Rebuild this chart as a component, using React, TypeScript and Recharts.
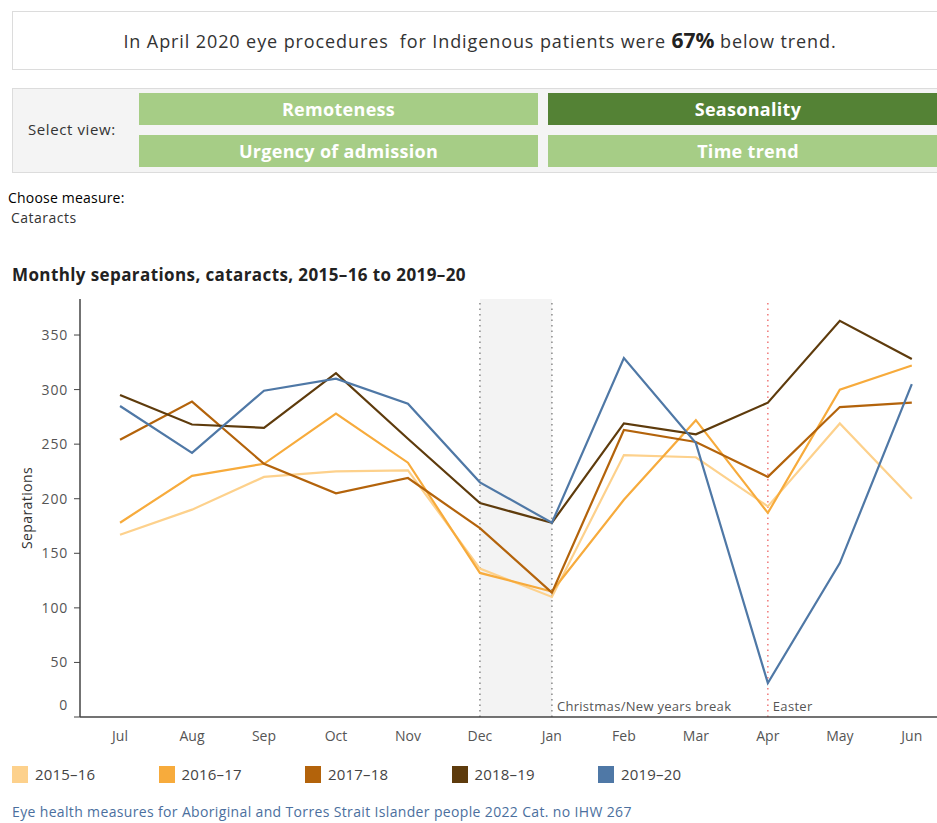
import React from "react";
import {
  LineChart,
  Line,
  XAxis,
  YAxis,
  ReferenceArea,
  ReferenceLine,
} from "recharts";

const months = ["Jul", "Aug", "Sep", "Oct", "Nov", "Dec", "Jan", "Feb", "Mar", "Apr", "May", "Jun"];

const y201516 = [167, 190, 220, 225, 226, 136, 110, 240, 238, 193, 269, 200];
const y201617 = [178, 221, 232, 278, 233, 132, 115, 199, 272, 187, 300, 322];
const y201718 = [254, 289, 232, 205, 219, 173, 114, 263, 252, 220, 284, 288];
const y201819 = [295, 268, 265, 315, 255, 196, 178, 269, 259, 288, 363, 328];
const y201920 = [285, 242, 299, 310, 287, 215, 178, 329, 251, 31, 141, 305];

const yTicks = [0, 50, 100, 150, 200, 250, 300, 350];

const seriesNames = ["2015–16", "2016–17", "2017–18", "2018–19", "2019–20"];
const seriesColors = ["#fdd18c", "#f7ab3c", "#b3630b", "#5e3b0c", "#4f78a6"];
const seriesValues = [y201516, y201617, y201718, y201819, y201920];

const data = months.map((m, i) => {
  const row: Record<string, number | string> = { idx: i, month: m };
  seriesNames.forEach((n, s) => {
    row[n] = seriesValues[s][i];
  });
  return row;
});

const font = "'Open Sans', sans-serif";

const YTick = (props: any) => {
  const { x, y, payload } = props;
  const dy = payload.value === 0 ? -7 : 5;
  return (
    <text
      x={x - 4}
      y={y + dy}
      textAnchor="end"
      fontSize={14}
      letterSpacing={0.8}
      fill="#555"
      fontFamily={font}
    >
      {payload.value}
    </text>
  );
};

const EventLabel = (text: string) => (props: any) => {
  const { viewBox } = props;
  return (
    <text
      x={viewBox.x + 5}
      y={viewBox.y + viewBox.height - 6}
      fontSize={13}
      letterSpacing={0.3}
      fill="#555"
      fontFamily={font}
    >
      {text}
    </text>
  );
};

const Button = ({ left, top, width, label, active }: any) => (
  <div
    style={{
      position: "absolute",
      left,
      top,
      width,
      height: 32,
      background: active ? "#548235" : "#a6cd86",
      color: "#fff",
      fontWeight: 700,
      fontSize: 18,
      letterSpacing: 0.3,
      lineHeight: "32px",
      textAlign: "center",
      fontFamily: font,
    }}
  >
    {label}
  </div>
);

const App = () => {
  return (
    <div
      style={{
        position: "absolute",
        left: 0,
        top: 0,
        width: 937,
        height: 823,
        overflow: "hidden",
        background: "#fff",
        fontFamily: font,
      }}
    >
      <div
        style={{
          position: "absolute",
          left: 12,
          top: 11,
          width: 940,
          height: 57,
          border: "1px solid #dcdcdc",
          textAlign: "center",
          lineHeight: "57px",
          fontSize: 18,
          letterSpacing: 0.9,
          color: "#333",
        }}
      >
        <span style={{ position: "relative", left: -3 }}>
          In April 2020 eye procedures&nbsp; for Indigenous patients were{" "}
          <b style={{ fontSize: 21, color: "#222", letterSpacing: 0 }}>67%</b> below trend.
        </span>
      </div>

      <div
        style={{
          position: "absolute",
          left: 12,
          top: 88,
          width: 940,
          height: 83,
          border: "1px solid #dcdcdc",
          background: "#f4f4f4",
        }}
      />
      <div
        style={{
          position: "absolute",
          left: 28,
          top: 119,
          fontSize: 15,
          letterSpacing: 0.6,
          color: "#333",
        }}
      >
        Select view:
      </div>
      <Button left={139} top={93} width={399} label="Remoteness" />
      <Button left={548} top={93} width={400} label="Seasonality" active />
      <Button left={139} top={135} width={399} label="Urgency of admission" />
      <Button left={548} top={135} width={400} label="Time trend" />

      <div
        style={{
          position: "absolute",
          left: 8,
          top: 188,
          fontSize: 14,
          letterSpacing: 0.2,
          color: "#000",
        }}
      >
        Choose measure:
      </div>
      <div
        style={{
          position: "absolute",
          left: 11,
          top: 208,
          fontSize: 14,
          letterSpacing: 0.5,
          color: "#333",
        }}
      >
        Cataracts
      </div>

      <div
        style={{
          position: "absolute",
          left: 12,
          top: 263,
          fontSize: 17,
          letterSpacing: 0.4,
          fontWeight: 700,
          color: "#222",
        }}
      >
        Monthly separations, cataracts, 2015–16 to 2019–20
      </div>

      <div style={{ position: "absolute", left: 0, top: 290 }}>
        <LineChart
          width={937}
          height={457}
          data={data}
          margin={{ top: 9, right: 0, bottom: 0, left: 0 }}
        >
          <ReferenceArea x1={5} x2={6} y1={0} y2={383} fill="#f3f3f3" fillOpacity={1} stroke="none" />
          <ReferenceLine x={5} stroke="#8a8a8a" strokeWidth={1.5} strokeDasharray="1.5 4" />
          <ReferenceLine
            x={6}
            stroke="#8a8a8a"
            strokeWidth={1.5}
            strokeDasharray="1.5 4"
            label={EventLabel("Christmas/New years break")}
          />
          <ReferenceLine
            x={9}
            stroke="#f07878"
            strokeWidth={1.5}
            strokeDasharray="1.5 4"
            label={EventLabel("Easter")}
          />
          <XAxis
            dataKey="idx"
            type="number"
            domain={[-0.556, 11.35]}
            ticks={months.map((_, i) => i)}
            tickFormatter={(v) => months[v]}
            allowDataOverflow
            height={30}
            tickLine={false}
            axisLine={{ stroke: "#444", strokeWidth: 1.5 }}
            tick={{ fontSize: 14, fill: "#555", fontFamily: font }}
            tickMargin={8}
          />
          <YAxis
            width={80}
            domain={[0, 383]}
            ticks={yTicks}
            allowDataOverflow
            tick={<YTick />}
            tickSize={6}
            tickLine={{ stroke: "#444" }}
            axisLine={{ stroke: "#444", strokeWidth: 1.5 }}
            label={{
              value: "Separations",
              angle: -90,
              position: "insideLeft",
              offset: 27,
              style: {
                fontSize: 14,
                letterSpacing: 0.4,
                fill: "#333",
                fontFamily: font,
                textAnchor: "middle",
              },
            }}
          />
          {seriesNames.map((n, s) => (
            <Line
              key={n}
              type="linear"
              dataKey={n}
              stroke={seriesColors[s]}
              strokeWidth={2.2}
              dot={false}
              activeDot={false}
              isAnimationActive={false}
            />
          ))}
        </LineChart>
      </div>

      {seriesNames.map((n, s) => (
        <div
          key={n}
          style={{
            position: "absolute",
            left: 12 + s * 146.5,
            top: 764,
            display: "flex",
            alignItems: "center",
            fontSize: 15,
            letterSpacing: 0.2,
            color: "#444",
          }}
        >
          <span
            style={{
              display: "inline-block",
              width: 16,
              height: 17,
              background: seriesColors[s],
              marginRight: 7,
            }}
          />
          {n}
        </div>
      ))}

      <div
        style={{
          position: "absolute",
          left: 12,
          top: 802,
          fontSize: 14,
          letterSpacing: 0.35,
          color: "#4b6f9e",
        }}
      >
        Eye health measures for Aboriginal and Torres Strait Islander people 2022 Cat. no IHW 267
      </div>
    </div>
  );
};

export default App;
